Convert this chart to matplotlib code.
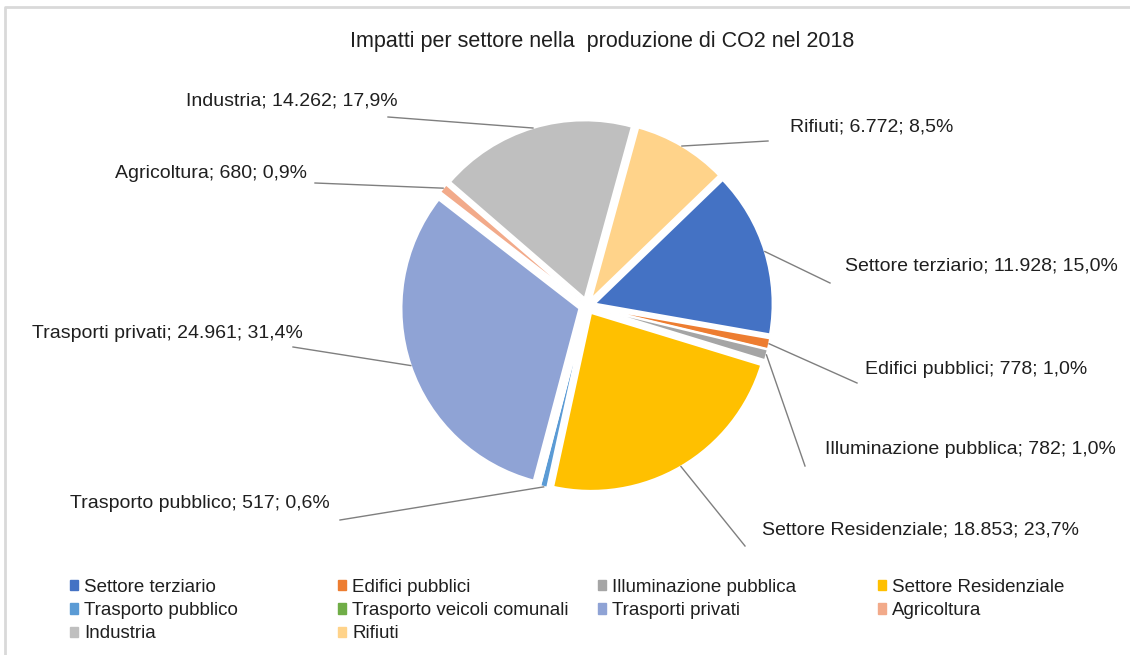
import matplotlib.pyplot as plt
from matplotlib.patches import Patch
import numpy as np

plt.rcParams['font.family'] = ['Liberation Sans', 'DejaVu Sans']

# dati
settori = ['Settore terziario', 'Edifici pubblici', 'Illuminazione pubblica',
           'Settore Residenziale', 'Trasporto pubblico', 'Trasporto veicoli comunali',
           'Trasporti privati', 'Agricoltura', 'Industria', 'Rifiuti']
valori = [11928, 778, 782, 18853, 517, 50, 24961, 680, 14262, 6772]
colori = ['#4472C4', '#ED7D31', '#A5A5A5', '#FFC000', '#5B9BD5', '#70AD47',
          '#8FA3D5', '#F2AA8A', '#BFBFBF', '#FFD38A']

# posizioni etichette (pixel): testo x, y, allineamento, fine linea x, y
pos_etichette = {
    'Settore terziario': (845, 266, 'left', 830, 283),
    'Edifici pubblici': (865, 370, 'left', 857, 383),
    'Illuminazione pubblica': (825, 449, 'left', 805, 466),
    'Settore Residenziale': (762, 530, 'left', 745, 546),
    'Trasporto pubblico': (330, 503, 'right', 340, 520),
    'Trasporti privati': (303, 333, 'right', 293, 347),
    'Agricoltura': (307, 173, 'right', 315, 183),
    'Industria': (398, 101, 'right', 388, 117),
    'Rifiuti': (790, 127, 'left', 768, 141),
}

W, H = 1130, 655
centro = (587, H - 306)
raggio = 178
esplodi = 8
start = 44

fig = plt.figure(figsize=(W / 100, H / 100), dpi=100)
ax = fig.add_axes([0, 0, 1, 1])

wedges, _ = ax.pie(valori, colors=colori, startangle=start, counterclock=False,
                   explode=[esplodi] * len(valori), radius=raggio, center=centro,
                   labels=settori, labeldistance=None,
                   wedgeprops=dict(edgecolor='white', linewidth=1.5))

ax.set_xlim(0, W)
ax.set_ylim(0, H)
ax.set_aspect('equal')
ax.axis('off')

totale = sum(valori)
cum = 0
for nome, v in zip(settori, valori):
    frac = v / totale
    theta = np.deg2rad(start - 360 * (cum + frac / 2))
    cum += frac
    if nome not in pos_etichette:
        continue
    tx, ty, ha, lx, ly = pos_etichette[nome]
    px = centro[0] + (raggio + esplodi) * np.cos(theta)
    py = centro[1] + (raggio + esplodi) * np.sin(theta)
    ax.plot([px, lx], [py, H - ly], color='#7F7F7F', lw=1)
    testo = '%s; %s; %s%%' % (nome, f'{v:,}'.replace(',', '.'),
                              f'{frac * 100:.1f}'.replace('.', ','))
    ax.text(tx, H - ty, testo, ha=ha, va='center', fontsize=14, color='#1F1F1F')

ax.text(602, H - 42, 'Impatti per settore nella  produzione di CO2 nel 2018',
        ha='center', va='center', fontsize=15.5, color='#1F1F1F')

# bordo del grafico
ax.plot([5, 5, W], [0, H - 7, H - 7], color='#D9D9D9', lw=2, clip_on=False)

# legenda in 4 colonne
colonne = [[0, 4, 8], [1, 5, 9], [2, 6], [3, 7]]
x_col = [70, 338, 598, 878]
for xc, idx in zip(x_col, colonne):
    handles = [Patch(color=colori[i], label=settori[i]) for i in idx]
    leg = fig.legend(handles=handles, loc='upper left', bbox_to_anchor=(xc / W, 1 - 579 / H),
                     frameon=False, fontsize=13.5, handlelength=0.45, handleheight=0.45,
                     handletextpad=0.3, labelspacing=0.33, borderpad=0, borderaxespad=0)
    for t in leg.get_texts():
        t.set_color('#1F1F1F')

fig.savefig('out.png', dpi=100)
